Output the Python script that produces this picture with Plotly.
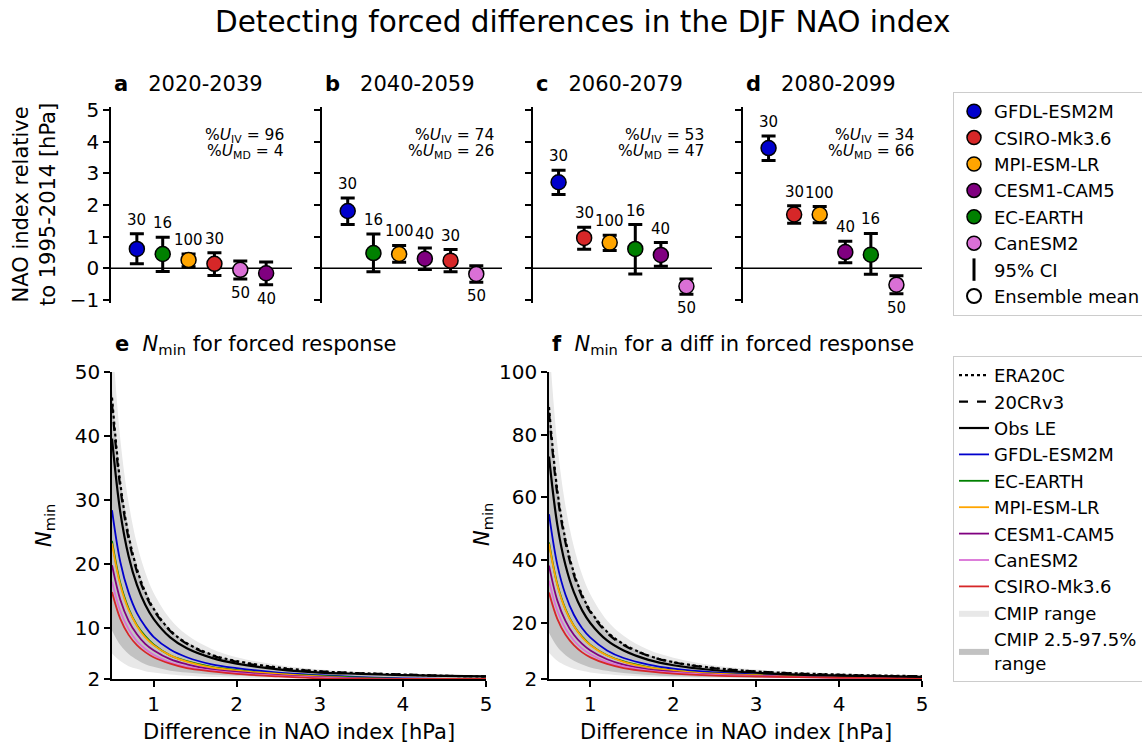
import plotly.graph_objects as go

W, H = 1142, 744
FONT = "DejaVu Sans"


def fx(x):
    # pixel -> paper x
    return x / W


def fy(y):
    # pixel -> paper y
    return 1 - y / H


def sfx(k):
    return "" if k == 1 else str(k)


# ---- panels a-d : NAO change per model, mean and 95% CI ----
periods = ["2020-2039", "2040-2059", "2060-2079", "2080-2099"]
letters = ["a", "b", "c", "d"]
u_iv = [96, 74, 53, 34]
u_md = [4, 26, 47, 66]

model_names = ["GFDL-ESM2M", "CSIRO-Mk3.6", "MPI-ESM-LR", "CESM1-CAM5", "EC-EARTH", "CanESM2"]
model_colors = {"GFDL-ESM2M": "#0000cd", "CSIRO-Mk3.6": "#d62728", "MPI-ESM-LR": "#ffa500",
                "CESM1-CAM5": "#800080", "EC-EARTH": "#008000", "CanESM2": "#da70d6"}
ens_size = {"GFDL-ESM2M": 30, "CSIRO-Mk3.6": 30, "MPI-ESM-LR": 100,
            "CESM1-CAM5": 40, "EC-EARTH": 16, "CanESM2": 50}

order_a = ["GFDL-ESM2M", "EC-EARTH", "MPI-ESM-LR", "CSIRO-Mk3.6", "CanESM2", "CESM1-CAM5"]
mean_a = [0.61, 0.45, 0.26, 0.14, -0.05, -0.16]
hi_a = [1.09, 0.98, 0.45, 0.49, 0.23, 0.20]
lo_a = [0.14, -0.10, 0.05, -0.23, -0.34, -0.52]

order_b = ["GFDL-ESM2M", "EC-EARTH", "MPI-ESM-LR", "CESM1-CAM5", "CSIRO-Mk3.6", "CanESM2"]
mean_b = [1.81, 0.48, 0.45, 0.30, 0.24, -0.18]
hi_b = [2.22, 1.08, 0.72, 0.64, 0.59, 0.08]
lo_b = [1.38, -0.11, 0.19, -0.04, -0.11, -0.44]

order_c = ["GFDL-ESM2M", "CSIRO-Mk3.6", "MPI-ESM-LR", "EC-EARTH", "CESM1-CAM5", "CanESM2"]
mean_c = [2.72, 0.96, 0.81, 0.61, 0.42, -0.57]
hi_c = [3.10, 1.30, 1.04, 1.38, 0.81, -0.34]
lo_c = [2.33, 0.60, 0.56, -0.18, 0.06, -0.82]

order_d = ["GFDL-ESM2M", "CSIRO-Mk3.6", "MPI-ESM-LR", "CESM1-CAM5", "EC-EARTH", "CanESM2"]
mean_d = [3.80, 1.70, 1.70, 0.51, 0.43, -0.52]
hi_d = [4.18, 1.98, 1.95, 0.85, 1.10, -0.24]
lo_d = [3.41, 1.42, 1.44, 0.17, -0.19, -0.81]

# ---- panels e-f : N_min against difference in NAO index ----
diff = [0.5, 0.6, 0.7, 0.8, 0.9, 1.0, 1.2, 1.4, 1.7, 2.0, 2.5, 3.0, 3.5, 4.0, 4.5, 5.0]

e_era20c = [46.0, 32.6, 24.4, 19.2, 15.6, 13.0, 9.6, 7.6, 5.8, 4.8, 3.8, 3.2, 2.9, 2.7, 2.5, 2.4]
e_20crv3 = [45.0, 31.9, 23.9, 18.8, 15.3, 12.8, 9.5, 7.5, 5.7, 4.7, 3.7, 3.2, 2.9, 2.7, 2.5, 2.4]
e_obsle = [39.6, 28.1, 21.2, 16.7, 13.6, 11.4, 8.5, 6.8, 5.3, 4.4, 3.5, 3.0, 2.8, 2.6, 2.5, 2.4]
e_gfdl = [28.4, 20.3, 15.5, 12.3, 10.2, 8.6, 6.6, 5.4, 4.3, 3.7, 3.0, 2.6, 2.3, 2.1, 2.0, 2.0]
e_ecearth = [23.6, 17.0, 13.0, 10.4, 8.7, 7.4, 5.7, 4.8, 3.9, 3.4, 2.8, 2.5, 2.2, 2.0, 2.0, 2.0]
e_mpi = [23.2, 16.7, 12.8, 10.3, 8.5, 7.3, 5.7, 4.7, 3.8, 3.3, 2.8, 2.4, 2.1, 2.0, 2.0, 2.0]
e_cesm = [19.8, 14.4, 11.1, 9.0, 7.5, 6.5, 5.1, 4.3, 3.5, 3.1, 2.6, 2.3, 2.1, 2.0, 2.0, 2.0]
e_canesm = [17.2, 12.6, 9.8, 7.9, 6.7, 5.8, 4.6, 3.9, 3.3, 2.9, 2.5, 2.2, 2.0, 2.0, 2.0, 2.0]
e_csiro = [15.6, 11.4, 8.9, 7.3, 6.2, 5.4, 4.4, 3.7, 3.2, 2.8, 2.4, 2.1, 2.0, 2.0, 2.0, 2.0]
e_cmip_min = [6.0, 4.8, 4.0, 3.6, 3.2, 3.0, 2.7, 2.5, 2.3, 2.2, 2.1, 2.0, 2.0, 2.0, 2.0, 2.0]
e_cmip_max = [56.0, 39.5, 29.6, 23.1, 18.7, 15.5, 11.4, 8.9, 6.7, 5.4, 4.2, 3.5, 3.1, 2.8, 2.7, 2.5]
e_cmip_p025 = [9.6, 7.3, 5.9, 5.0, 4.3, 3.9, 3.3, 3.0, 2.7, 2.5, 2.3, 2.2, 2.1, 2.1, 2.0, 2.0]
e_cmip_p975 = [47.2, 33.4, 25.1, 19.7, 16.0, 13.3, 9.8, 7.8, 5.9, 4.8, 3.8, 3.3, 2.9, 2.7, 2.6, 2.5]

f_era20c = [88.8, 62.3, 46.3, 35.9, 28.8, 23.7, 17.1, 13.1, 9.5, 7.4, 5.5, 4.4, 3.8, 3.4, 3.1, 2.9]
f_20crv3 = [87.0, 61.0, 45.4, 35.2, 28.2, 23.3, 16.7, 12.8, 9.4, 7.3, 5.4, 4.4, 3.7, 3.3, 3.0, 2.9]
f_obsle = [73.0, 51.3, 38.2, 29.7, 23.9, 19.8, 14.3, 11.1, 8.1, 6.4, 4.8, 4.0, 3.4, 3.1, 2.9, 2.7]
f_gfdl = [54.6, 38.5, 28.8, 22.5, 18.2, 15.2, 11.1, 8.7, 6.6, 5.3, 4.1, 3.5, 3.1, 2.8, 2.6, 2.5]
f_ecearth = [45.6, 32.3, 24.2, 19.0, 15.5, 12.9, 9.6, 7.6, 5.8, 4.7, 3.7, 3.2, 2.9, 2.7, 2.5, 2.4]
f_mpi = [45.2, 32.0, 24.0, 18.9, 15.3, 12.8, 9.5, 7.5, 5.7, 4.7, 3.7, 3.2, 2.8, 2.6, 2.5, 2.4]
f_cesm = [38.2, 27.1, 20.5, 16.1, 13.2, 11.1, 8.3, 6.6, 5.1, 4.3, 3.4, 3.0, 2.7, 2.5, 2.4, 2.3]
f_canesm = [33.4, 23.8, 18.0, 14.3, 11.7, 9.9, 7.4, 6.0, 4.7, 4.0, 3.3, 2.9, 2.6, 2.4, 2.3, 2.3]
f_csiro = [29.6, 21.2, 16.1, 12.8, 10.5, 8.9, 6.8, 5.5, 4.4, 3.7, 3.1, 2.8, 2.6, 2.4, 2.3, 2.3]
f_cmip_min = [10.4, 7.8, 6.3, 5.3, 4.6, 4.1, 3.5, 3.1, 2.7, 2.5, 2.3, 2.2, 2.2, 2.1, 2.1, 2.1]
f_cmip_max = [110.0, 77.0, 57.1, 44.2, 35.3, 29.0, 20.7, 15.8, 11.3, 8.8, 6.3, 5.0, 4.2, 3.7, 3.3, 3.1]
f_cmip_p025 = [16.8, 12.3, 9.6, 7.8, 6.6, 5.7, 4.6, 3.9, 3.3, 2.9, 2.6, 2.4, 2.3, 2.2, 2.2, 2.1]
f_cmip_p975 = [91.2, 63.9, 47.5, 36.8, 29.5, 24.3, 17.5, 13.4, 9.7, 7.6, 5.6, 4.5, 3.8, 3.4, 3.1, 2.9]

fig = go.Figure()
annots = []
shapes = []


def note(xp, yp, text, size, xanchor="center", yanchor="middle", **kw):
    # text placed in figure pixels
    annots.append(dict(x=fx(xp), y=fy(yp), xref="paper", yref="paper", text=text, showarrow=False,
                       xanchor=xanchor, yanchor=yanchor, font=dict(size=size), **kw))


# --- top row ---
top_x = [(111, 292), (322, 502), (533, 712), (743, 922)]
top_y = (107, 303)
top_data = [(order_a, mean_a, hi_a, lo_a), (order_b, mean_b, hi_b, lo_b),
            (order_c, mean_c, hi_c, lo_c), (order_d, mean_d, hi_d, lo_d)]

for k, (order, mean, hi, lo) in enumerate(top_data, start=1):
    xa, ya = "x" + sfx(k), "y" + sfx(k)
    xs = list(range(1, len(order) + 1))
    for i, m in enumerate(order):
        fig.add_trace(go.Scatter(
            x=[xs[i]], y=[mean[i]], xaxis=xa, yaxis=ya, mode="markers",
            marker=dict(size=15, color=model_colors[m], line=dict(color="black", width=1.5)),
            error_y=dict(type="data", symmetric=False, array=[hi[i] - mean[i]],
                         arrayminus=[mean[i] - lo[i]], color="black", thickness=3, width=7),
            showlegend=False, hoverinfo="skip"))
        up = mean[i] >= 0
        annots.append(dict(x=xs[i], y=hi[i] if up else lo[i], xref=xa, yref=ya,
                           text=str(ens_size[m]), showarrow=False, xanchor="center",
                           yanchor="bottom" if up else "top", yshift=3 if up else -3,
                           font=dict(size=15, color="black")))
    shapes.append(dict(type="line", xref=xa + " domain", yref=ya, x0=0, x1=1, y0=0, y1=0,
                       line=dict(color="black", width=1.5), layer="below"))
    x0, x1 = top_x[k - 1]
    note(x0 + 1, 84, "<b>%s</b>\u00a0\u00a0\u00a0%s" % (letters[k - 1], periods[k - 1]), 21,
         xanchor="left")
    note(x1 - 6, 136, "%%<i>U</i><sub>IV</sub> = %d" % u_iv[k - 1], 15.5, xanchor="right")
    note(x1 - 6, 152, "%%<i>U</i><sub>MD</sub> = %d" % u_md[k - 1], 15.5, xanchor="right")

# legend entries for the top row
for m in model_names:
    fig.add_trace(go.Scatter(x=[None], y=[None], mode="markers", name=m,
                             marker=dict(size=14, color=model_colors[m], line=dict(color="black", width=1.5)),
                             legend="legend"))
fig.add_trace(go.Scatter(x=[None], y=[None], mode="markers", name="95% CI",
                         marker=dict(size=16, symbol="line-ns-open", color="black", line=dict(color="black", width=3)),
                         legend="legend"))
fig.add_trace(go.Scatter(x=[None], y=[None], mode="markers", name="Ensemble mean",
                         marker=dict(size=14, color="white", line=dict(color="black", width=2)),
                         legend="legend"))

# --- bottom row ---
bot_x = [(112, 486), (549, 922)]
bot_y = (372, 679)
panels = [
    dict(obs=[e_era20c, e_20crv3, e_obsle],
         mods=[e_gfdl, e_ecearth, e_mpi, e_cesm, e_canesm, e_csiro],
         band=[e_cmip_min, e_cmip_max, e_cmip_p025, e_cmip_p975]),
    dict(obs=[f_era20c, f_20crv3, f_obsle],
         mods=[f_gfdl, f_ecearth, f_mpi, f_cesm, f_canesm, f_csiro],
         band=[f_cmip_min, f_cmip_max, f_cmip_p025, f_cmip_p975]),
]
line_models = ["GFDL-ESM2M", "EC-EARTH", "MPI-ESM-LR", "CESM1-CAM5", "CanESM2", "CSIRO-Mk3.6"]

for j, p in enumerate(panels):
    k = 5 + j
    ax = dict(xaxis="x%d" % k, yaxis="y%d" % k)
    first = j == 0
    lo1, hi1, lo2, hi2 = p["band"]
    fig.add_trace(go.Scatter(x=diff, y=lo1, mode="lines", line=dict(width=0, shape="spline"),
                             showlegend=False, hoverinfo="skip", **ax))
    fig.add_trace(go.Scatter(x=diff, y=hi1, mode="lines", line=dict(width=0, shape="spline"),
                             fill="tonexty", fillcolor="#e8e8e8", name="CMIP range",
                             showlegend=first, legend="legend2", legendrank=10, **ax))
    fig.add_trace(go.Scatter(x=diff, y=lo2, mode="lines", line=dict(width=0, shape="spline"),
                             showlegend=False, hoverinfo="skip", **ax))
    fig.add_trace(go.Scatter(x=diff, y=hi2, mode="lines", line=dict(width=0, shape="spline"),
                             fill="tonexty", fillcolor="#c2c2c2", name="CMIP 2.5-97.5%<br>range",
                             showlegend=first, legend="legend2", legendrank=11, **ax))
    for i, m in enumerate(line_models):
        fig.add_trace(go.Scatter(x=diff, y=p["mods"][i], mode="lines", name=m,
                                 line=dict(color=model_colors[m], width=1.8, shape="spline"),
                                 showlegend=first, legend="legend2", legendrank=4 + i, **ax))
    obs_names = ["ERA20C", "20CRv3", "Obs LE"]
    obs_dash = ["dot", "dash", "solid"]
    for i in range(3):
        fig.add_trace(go.Scatter(x=diff, y=p["obs"][i], mode="lines", name=obs_names[i],
                                 line=dict(color="black", width=2.2, dash=obs_dash[i], shape="spline"),
                                 showlegend=first, legend="legend2", legendrank=1 + i, **ax))

# titles and axis labels
note(113, 345, "<b>e</b>\u00a0\u00a0<i>N</i><sub>min</sub> for forced response", 21, xanchor="left")
note(550, 345, "<b>f</b>\u00a0\u00a0<i>N</i><sub>min</sub> for a diff in forced response", 21, xanchor="left")
note(45, 525, "<i>N</i><sub>min</sub>", 21, textangle=-90)
note(483, 525, "<i>N</i><sub>min</sub>", 21, textangle=-90)
note(299, 732, "Difference in NAO index [hPa]", 21)
note(736, 732, "Difference in NAO index [hPa]", 21)
note(35, 205, "NAO index relative<br>to 1995-2014 [hPa]", 21, textangle=-90)
note(582, 22, "Detecting forced differences in the DJF NAO index", 29.5)

layout = dict(
    width=W, height=H, margin=dict(l=0, r=0, t=0, b=0, autoexpand=False),
    paper_bgcolor="white", plot_bgcolor="white",
    font=dict(family=FONT, color="black", size=20),
    annotations=annots, shapes=shapes,
    legend=dict(x=fx(953), y=fy(92), xanchor="left", yanchor="top", bgcolor="white",
                bordercolor="#cccccc", borderwidth=1, font=dict(size=18), tracegroupgap=0),
    legend2=dict(x=fx(953), y=fy(356), xanchor="left", yanchor="top", bgcolor="white",
                 bordercolor="#cccccc", borderwidth=1, font=dict(size=18), traceorder="normal"),
)

axis_style = dict(showline=True, linecolor="black", linewidth=1.5, ticks="outside", ticklen=6,
                  tickwidth=1.5, tickcolor="black", showgrid=False, zeroline=False, mirror=False,
                  tickfont=dict(size=20))

for k in range(1, 5):
    x0, x1 = top_x[k - 1]
    layout["xaxis" + sfx(k)] = dict(domain=[fx(x0), fx(x1)], range=[0, 7], visible=False,
                                    anchor="y" + sfx(k))
    layout["yaxis" + sfx(k)] = dict(axis_style, domain=[fy(top_y[1]), fy(top_y[0])], range=[-1.1, 5.1],
                                    tickvals=[-1, 0, 1, 2, 3, 4, 5], showticklabels=(k == 1),
                                    anchor="x" + sfx(k))

for j in range(2):
    k = 5 + j
    x0, x1 = bot_x[j]
    layout["xaxis%d" % k] = dict(axis_style, domain=[fx(x0), fx(x1)], range=[0.5, 5],
                                 tickvals=[1, 2, 3, 4, 5], anchor="y%d" % k)
    layout["yaxis%d" % k] = dict(axis_style, domain=[fy(bot_y[1]), fy(bot_y[0])],
                                 range=[2, 50] if j == 0 else [2, 100],
                                 tickvals=[2, 10, 20, 30, 40, 50] if j == 0 else [2, 20, 40, 60, 80, 100],
                                 anchor="x%d" % k)

fig.update_layout(layout)
fig.write_html("out.html", config={"displayModeBar": False},
               post_script="document.body.style.margin='0';")
